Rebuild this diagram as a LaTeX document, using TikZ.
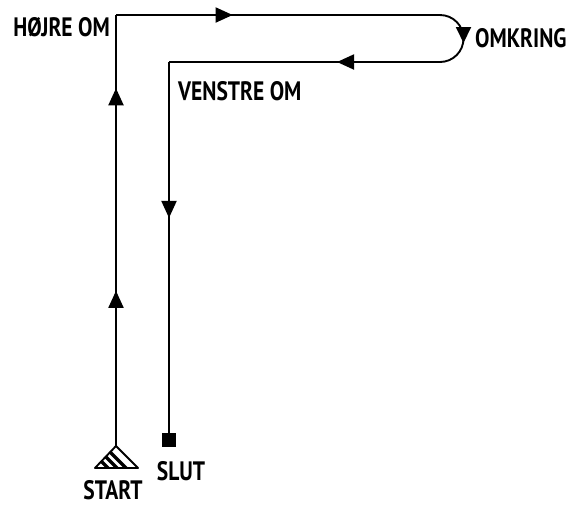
\documentclass[tikz,border=0pt]{standalone}
\usepackage{fontspec}
\setmainfont{PT Sans}
\usetikzlibrary{arrows.meta,decorations.markings}

\newcommand{\hand}[1]{\scalebox{1.05}[1.3]{#1}}
\tikzset{route/.style={line width=1.9pt},
  tip/.style={-{Triangle[length=16pt,width=15pt]}},
  arrowat/.style={postaction={decorate,decoration={markings,
    mark=at position #1 with {\arrow{Triangle[length=17pt,width=15pt]}}}}},
  lbl/.style={inner sep=0pt,font=\fontsize{20.5}{21}\selectfont\bfseries},
  slutbox/.style={draw,fill,minimum size=13pt,inner sep=0pt}}

\begin{document}
\begin{tikzpicture}[x=1pt,y=-1pt]
            \useasboundingbox (0,0) rectangle (572,507);
            \coordinate (start) at (116,446);
            \coordinate (hojre) at (116,15);
            \coordinate (omk1) at (440,15);
            \coordinate (omk2) at (440,62);
            \coordinate (omk) at (463.5,40);
            \coordinate (venstre) at (169,62);
            \node [slutbox] (slut) at (169,440) {};

            \draw [route,arrowat=0.36,arrowat=0.83] (start) -- (hojre);
            \draw [route,arrowat=0.36] (hojre) -- (omk1);
            \draw [route] (omk1) arc (-90:90:23.5);
            \draw [route,tip] ([yshift=3pt]omk) -- ([yshift=-3pt]omk);
            \draw [route,arrowat=0.38] (omk2) -- (venstre);
            \draw [route,arrowat=0.42] (venstre) -- (slut.north);

            % start triangle
            \draw [route,line join=round] (start) -- (95,468) -- (138,468) -- cycle;
            \begin{scope}
                \clip (start) -- (95,468) -- (138,468) -- cycle;
                \foreach \s in {110,119,128}
                    \draw [line width=3.5pt] (\s,470) -- ++(-30,-30);
            \end{scope}

            \node [lbl,anchor=east] (hojrelbl) at (110,27) {\hand{HØJRE OM}};
            \node [lbl,anchor=west] (omkringlbl) at (475,38) {\hand{OMKRING}};
            \node [lbl,anchor=west] (venstrelbl) at (178,91) {\hand{VENSTRE OM}};
            \node [lbl] (slutlbl) at (181,471) {\hand{SLUT}};
            \node [lbl] (startlbl) at (113,490) {\hand{START}};
        \end{tikzpicture}
\end{document}
